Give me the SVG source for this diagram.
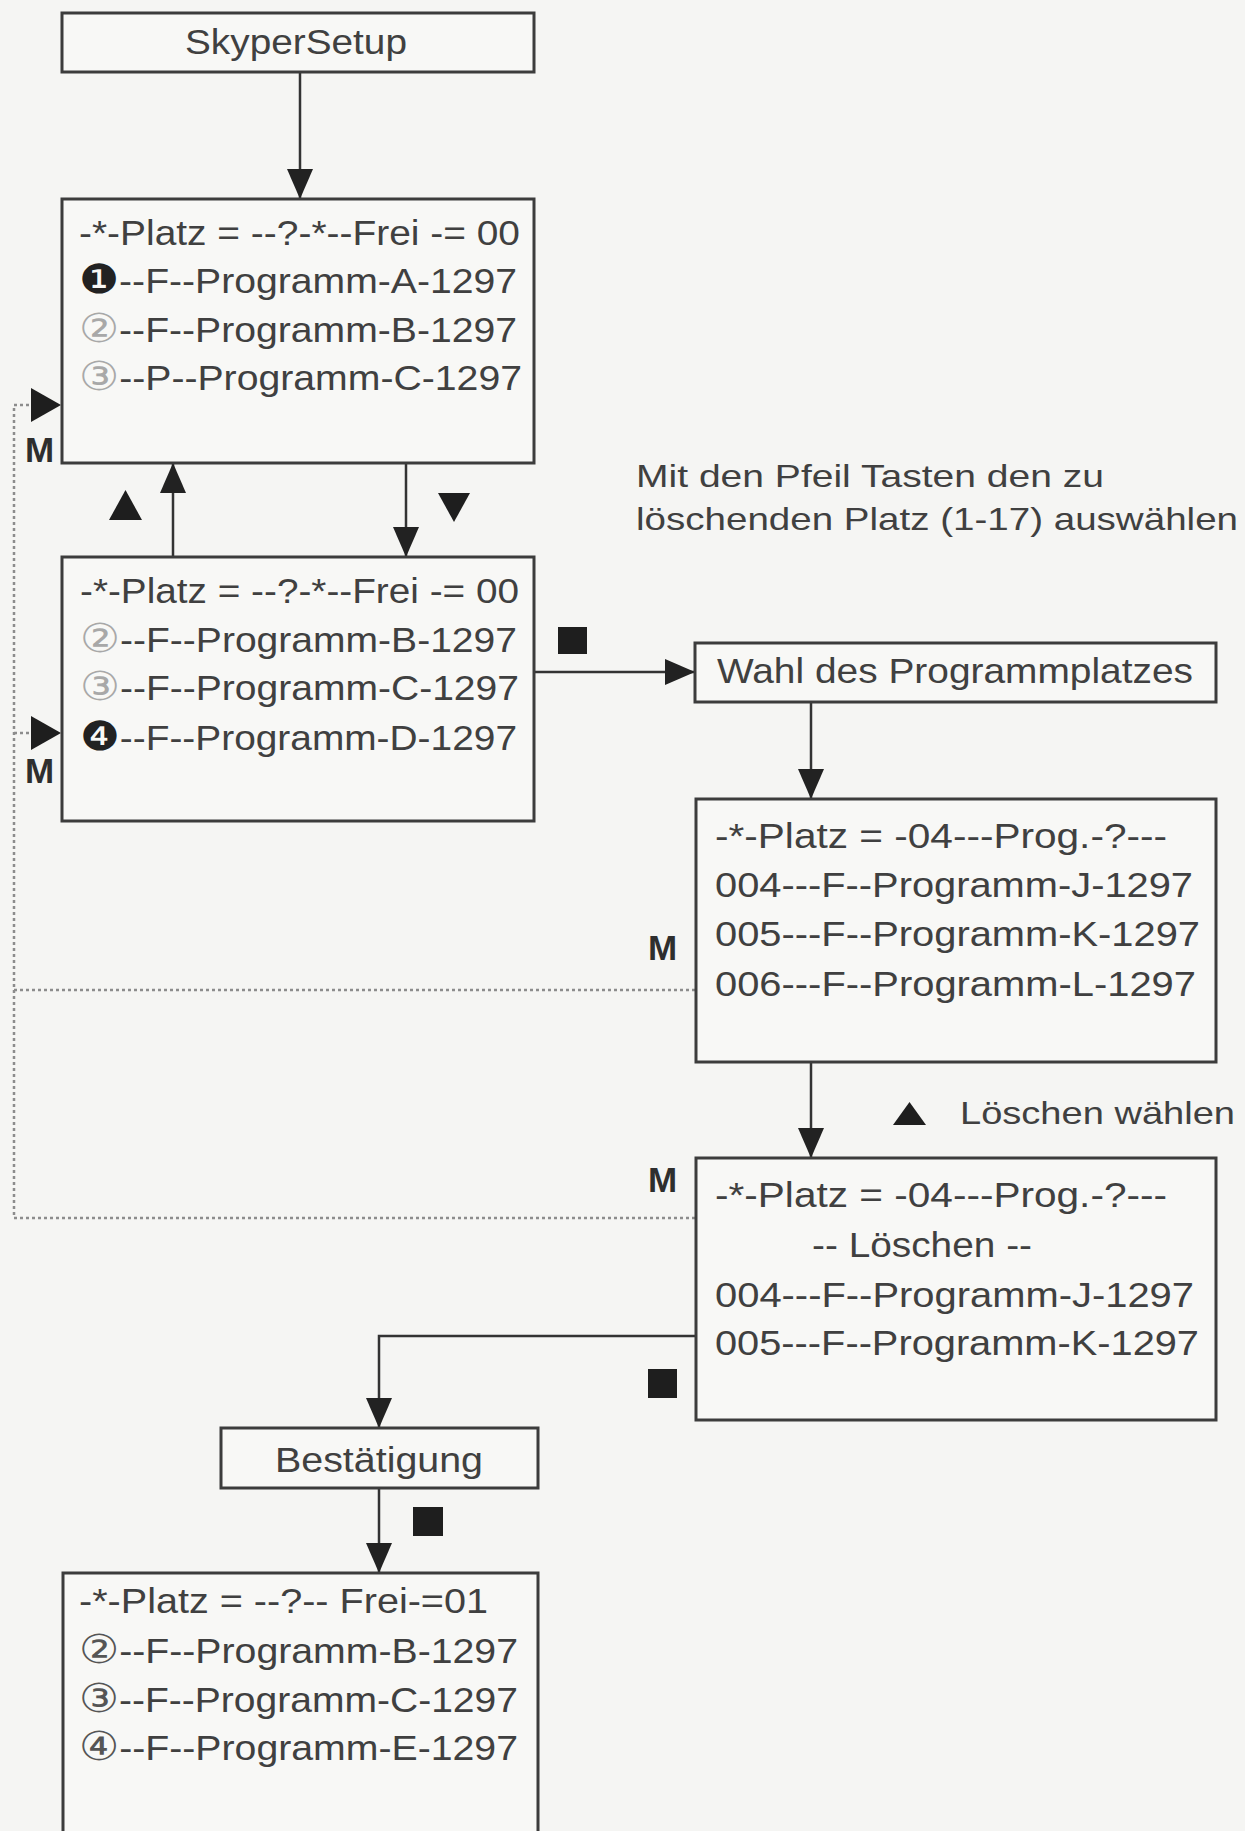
<svg xmlns="http://www.w3.org/2000/svg" width="1245" height="1831" viewBox="0 0 1245 1831">
<style>
.bg{fill:#f5f5f3}
.box{fill:#f8f8f6;stroke:#3c3c3c;stroke-width:3}
.t{font-family:"Liberation Sans","DejaVu Sans",sans-serif;font-size:35px;fill:#404040}
.tl{font-family:"Liberation Sans","DejaVu Sans",sans-serif;font-size:35px;fill:#404040}
.ann{font-family:"Liberation Sans","DejaVu Sans",sans-serif;font-size:32px;fill:#404040}
.m{font-family:"Liberation Sans",sans-serif;font-size:35px;font-weight:bold;fill:#2e2e2e}
.cd{font-family:"DejaVu Sans",sans-serif;font-size:40px}
.g{fill:#a8a8a8}
.k{fill:#222}
.c{fill:none;stroke:#333;stroke-width:2.5}
.d{fill:none;stroke:#8c8c8c;stroke-width:2.5;stroke-dasharray:3 3}
.sym{fill:#1e1e1e}
</style>
<defs>
<marker id="ah" markerUnits="userSpaceOnUse" markerWidth="30" markerHeight="26" viewBox="0 0 30 26" refX="30" refY="13" orient="auto">
<path d="M0,0 L30,13 L0,26 z" fill="#222"/>
</marker>
</defs>
<rect class="bg" x="0" y="0" width="1245" height="1831"/>

<g id="connectors">
<line class="c" x1="300" y1="72" x2="300" y2="199" marker-end="url(#ah)"/>
<line class="c" x1="406" y1="463" x2="406" y2="557" marker-end="url(#ah)"/>
<line class="c" x1="173" y1="557" x2="173" y2="463" marker-end="url(#ah)"/>
<line class="c" x1="534" y1="672" x2="695" y2="672" marker-end="url(#ah)"/>
<line class="c" x1="811" y1="702" x2="811" y2="799" marker-end="url(#ah)"/>
<line class="c" x1="811" y1="1062" x2="811" y2="1158" marker-end="url(#ah)"/>
<polyline class="c" points="695,1336 379,1336 379,1428" marker-end="url(#ah)"/>
<line class="c" x1="379" y1="1488" x2="379" y2="1573" marker-end="url(#ah)"/>
<path class="d" d="M695,990 H14 M695,1218 H14 V405 H31"/>
<path class="d" d="M14,733 H31"/>
<path d="M31,388 L61,405 L31,422 z" class="sym"/>
<path d="M31,716 L61,733 L31,750 z" class="sym"/>
</g>

<g id="labels">
<path class="sym" d="M109,520 L142,520 L125.5,490 z"/>
<path class="sym" d="M438,493 L470,493 L454,522 z"/>
<rect class="sym" x="558" y="627" width="29" height="27"/>
<rect class="sym" x="648" y="1369" width="29" height="29"/>
<rect class="sym" x="413" y="1507" width="30" height="29"/>
<path class="sym" d="M893,1125 L926,1125 L909.5,1102 z"/>
<text class="ann" x="960" y="1124" textLength="275" lengthAdjust="spacingAndGlyphs">Löschen wählen</text>
<text class="ann" x="636" y="487" textLength="468" lengthAdjust="spacingAndGlyphs">Mit den Pfeil Tasten den zu</text>
<text class="ann" x="636" y="530" textLength="602" lengthAdjust="spacingAndGlyphs">löschenden Platz (1-17) auswählen</text>
<text class="m" x="25" y="462">M</text>
<text class="m" x="25" y="783">M</text>
<text class="m" x="648" y="960">M</text>
<text class="m" x="648" y="1192">M</text>
</g>

<g id="skyper">
<rect class="box" x="62" y="13" width="472" height="59"/>
<text class="tl" x="185" y="54" textLength="222" lengthAdjust="spacingAndGlyphs">SkyperSetup</text>
</g>

<g id="box1">
<rect class="box" x="62" y="199" width="472" height="264"/>
<text class="t" x="79" y="245" textLength="441" lengthAdjust="spacingAndGlyphs">-*-Platz = --?-*--Frei -= 00</text>
<text class="t" x="79" y="293" textLength="438" lengthAdjust="spacingAndGlyphs"><tspan class="cd k">❶</tspan>--F--Programm-A-1297</text>
<text class="t" x="79" y="342" textLength="438" lengthAdjust="spacingAndGlyphs"><tspan class="cd g">②</tspan>--F--Programm-B-1297</text>
<text class="t" x="79" y="390" textLength="443" lengthAdjust="spacingAndGlyphs"><tspan class="cd g">③</tspan>--P--Programm-C-1297</text>
</g>

<g id="box2">
<rect class="box" x="62" y="557" width="472" height="264"/>
<text class="t" x="80" y="603" textLength="439" lengthAdjust="spacingAndGlyphs">-*-Platz = --?-*--Frei -= 00</text>
<text class="t" x="80" y="652" textLength="437" lengthAdjust="spacingAndGlyphs"><tspan class="cd g">②</tspan>--F--Programm-B-1297</text>
<text class="t" x="80" y="700" textLength="439" lengthAdjust="spacingAndGlyphs"><tspan class="cd g">③</tspan>--F--Programm-C-1297</text>
<text class="t" x="80" y="750" textLength="437" lengthAdjust="spacingAndGlyphs"><tspan class="cd k">❹</tspan>--F--Programm-D-1297</text>
</g>

<g id="wahl">
<rect class="box" x="695" y="643" width="521" height="59"/>
<text class="tl" x="717" y="683" textLength="476" lengthAdjust="spacingAndGlyphs">Wahl des Programmplatzes</text>
</g>

<g id="box3">
<rect class="box" x="696" y="799" width="520" height="263"/>
<text class="t" x="715" y="848" textLength="452" lengthAdjust="spacingAndGlyphs">-*-Platz = -04---Prog.-?---</text>
<text class="t" x="715" y="897" textLength="478" lengthAdjust="spacingAndGlyphs">004---F--Programm-J-1297</text>
<text class="t" x="715" y="946" textLength="485" lengthAdjust="spacingAndGlyphs">005---F--Programm-K-1297</text>
<text class="t" x="715" y="996" textLength="481" lengthAdjust="spacingAndGlyphs">006---F--Programm-L-1297</text>
</g>

<g id="box4">
<rect class="box" x="696" y="1158" width="520" height="262"/>
<text class="t" x="715" y="1207" textLength="452" lengthAdjust="spacingAndGlyphs">-*-Platz = -04---Prog.-?---</text>
<text class="t" x="812" y="1257" textLength="220" lengthAdjust="spacingAndGlyphs">-- Löschen --</text>
<text class="t" x="715" y="1307" textLength="479" lengthAdjust="spacingAndGlyphs">004---F--Programm-J-1297</text>
<text class="t" x="715" y="1355" textLength="484" lengthAdjust="spacingAndGlyphs">005---F--Programm-K-1297</text>
</g>

<g id="bestaetigung">
<rect class="box" x="221" y="1428" width="317" height="60"/>
<text class="tl" x="275" y="1472" textLength="208" lengthAdjust="spacingAndGlyphs">Bestätigung</text>
</g>

<g id="box5">
<rect class="box" x="63" y="1573" width="475" height="290"/>
<text class="t" x="79" y="1613" textLength="409" lengthAdjust="spacingAndGlyphs">-*-Platz = --?-- Frei-=01</text>
<text class="t" x="79" y="1663" textLength="439" lengthAdjust="spacingAndGlyphs"><tspan class="cd" fill="#555">②</tspan>--F--Programm-B-1297</text>
<text class="t" x="79" y="1712" textLength="439" lengthAdjust="spacingAndGlyphs"><tspan class="cd" fill="#555">③</tspan>--F--Programm-C-1297</text>
<text class="t" x="79" y="1760" textLength="439" lengthAdjust="spacingAndGlyphs"><tspan class="cd" fill="#555">④</tspan>--F--Programm-E-1297</text>
</g>
</svg>
